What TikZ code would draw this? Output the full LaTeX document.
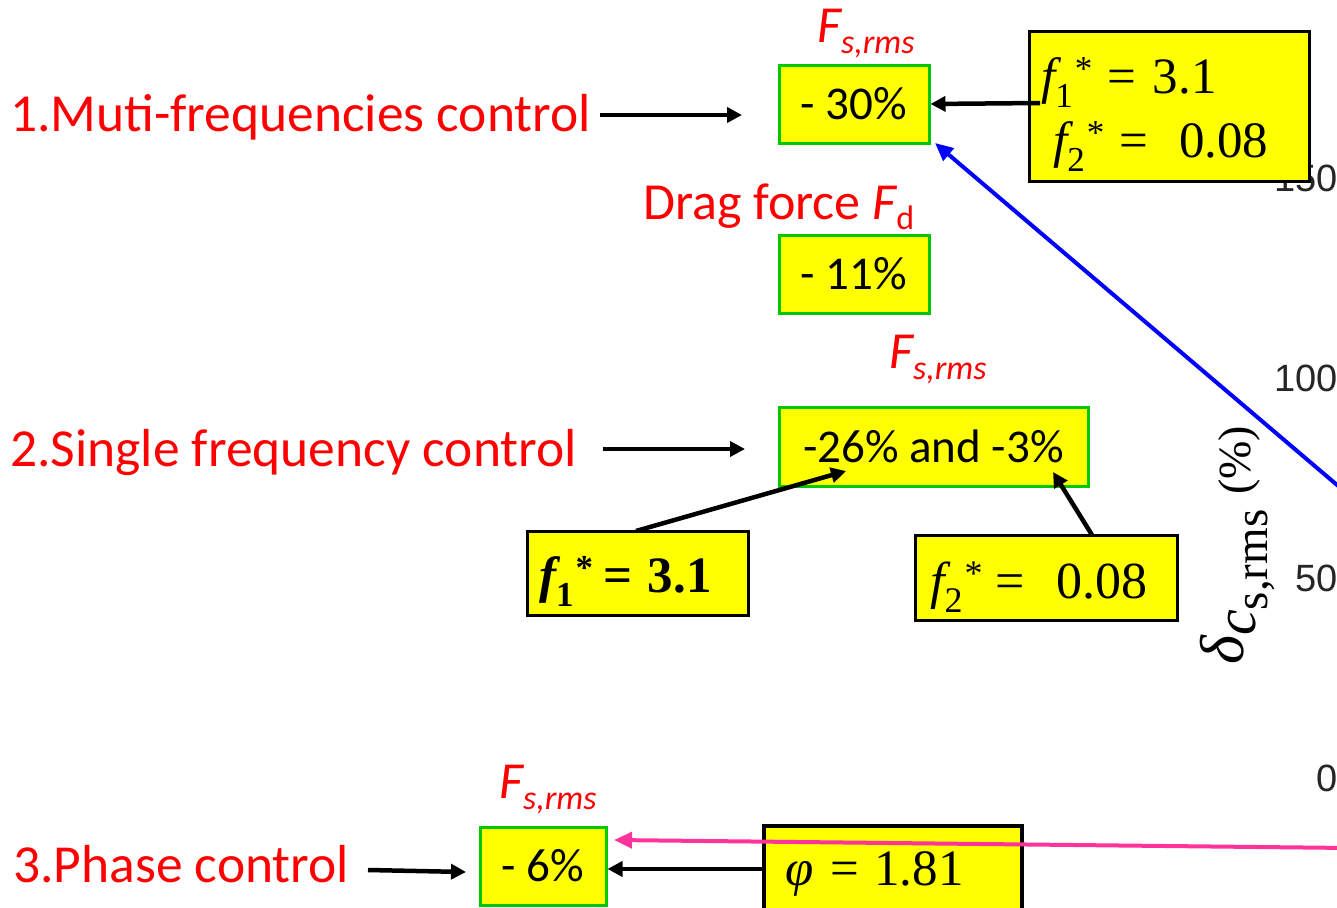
\documentclass[tikz,border=0pt]{standalone}
\usepackage{fontspec}
\usetikzlibrary{arrows.meta}
\newfontfamily\carl{Carlito}
\newfontfamily\tms{Liberation Serif}
\newfontfamily\ars{Liberation Sans}
\newcommand\fsz[1]{\fontsize{#1pt}{#1pt}\selectfont}
% f with subscript digit and raised star
\newcommand\fsub[2]{{\itshape f}\raisebox{-0.28em}{\fsz{#2}#1}\hspace{0.04em}\raisebox{0.24em}{\fsz{#2}*}}
\newcommand\Fsrms{{\itshape F}\raisebox{-11pt}{\fsz{34}\itshape s,rms}}
\definecolor{boxyellow}{RGB}{255,255,0}
\definecolor{boxgreen}{RGB}{0,200,0}
\definecolor{tickgray}{RGB}{38,38,38}
\definecolor{pinkline}{RGB}{255,51,153}
\tikzset{
  redlab/.style={text=red, font=\carl\fsz{53.5}, inner sep=0pt},
  fslab/.style={text=red, font=\carl\fsz{52}, inner sep=0pt},
  resbox/.style={draw=boxgreen, line width=3pt, fill=boxyellow, font=\carl\fsz{47}, inner sep=0pt, minimum height=78pt},
  parbox/.style={draw=black, line width=3pt, fill=boxyellow, inner sep=0pt},
  formula/.style={font=\tms, inner sep=0pt, anchor=base west},
  tick/.style={text=tickgray, font=\ars\fsz{38}, inner sep=0pt, anchor=east},
  arr/.style={line width=4.5pt, -{Triangle[length=15pt,width=15pt]}},
  blarr/.style={draw=blue, line width=4pt, -{Triangle[length=18pt,width=16pt]}},
  pkarr/.style={draw=pinkline, line width=4pt, -{Triangle[length=18pt,width=16pt]}}
}
\begin{document}
\begin{tikzpicture}[x=1pt,y=-1pt]
\useasboundingbox (0,0) rectangle (1337,907);
\clip (0,0) rectangle (1337,907);
\fill[white] (0,0) rectangle (1337,907);
% axis tick labels
\node[tick] (t150) at (1338,178) {150};
\node[tick] (t100) at (1338,378) {100};
\node[tick] (t50) at (1338,578) {50};
\node[tick] (t0) at (1338,778) {0};
\node[rotate=90, anchor=base west, inner sep=0pt, font=\tms] (ylab) at (1243,665)
  {{\fsz{62}\itshape δ}\raisebox{-12pt}{\fsz{58}\itshape c}\raisebox{-24pt}{\fsz{47}s,rms}\hspace{15pt}\raisebox{-7pt}{\fsz{46}(\%)}};
% row 1
\node[redlab, anchor=base west] (lab1) at (10,131) {1.Muti-frequencies control};
\node[resbox, minimum width=150pt] (b30) at (854,104) {- 30\%};
\node[fslab, anchor=base west] (fs1) at (817,42) {\Fsrms};
\node[parbox, minimum width=280pt, minimum height=149pt] (bf12) at (1169,106.5) {};
\node[formula, font=\tms\fsz{51}] (f12a) at (1041,93) {\fsub{1}{35}\hspace{0.3em}=\hspace{0.32em}3.1};
\node[formula, font=\tms\fsz{51}] (f12b) at (1053,157) {\fsub{2}{35}\hspace{0.3em}=\hspace{0.6em}0.08};
\node[fslab, anchor=base west] (drag) at (643,219) {Drag force {\itshape F}\raisebox{-10pt}{\fsz{34}d}};
\node[resbox, minimum width=150pt] (b11) at (854,274) {- 11\%};
% row 2
\node[fslab, anchor=base west] (fs2) at (889,368) {\Fsrms};
\node[redlab, anchor=base west] (lab2) at (10,466) {2.Single frequency control};
\node[resbox, minimum width=309pt, minimum height=79pt] (b26) at (933.5,446.5) {-26\% and -3\%};
\node[parbox, minimum width=221pt, minimum height=84pt] (bf1) at (637.5,573) {};
\node[formula, font=\tms\bfseries\fsz{51}] (f1t) at (539,592) {\fsub{1}{35}\hspace{0.2em}=\hspace{0.3em}3.1};
\node[parbox, minimum width=262pt, minimum height=85pt] (bf2) at (1046,578) {};
\node[formula, font=\tms\fsz{52}] (f2t) at (930,598) {\fsub{2}{36}\hspace{0.25em}=\hspace{0.6em}0.08};
% row 3
\node[fslab, anchor=base west] (fs3) at (499,798) {\Fsrms};
\node[redlab, anchor=base west] (lab3) at (13,882) {3.Phase control};
\node[resbox, minimum width=126pt] (b6) at (543,866) {- 6\%};
\node[parbox, line width=4pt, minimum width=258pt, minimum height=95pt] (bphi) at (893,873) {};
\node[formula, font=\tms\fsz{51}] (phit) at (785,885) {{\itshape φ}\hspace{0.33em}=\hspace{0.3em}1.81};
% connector end points
\coordinate (a1s) at (600,115);
\coordinate (a1e) at (742,115);
\coordinate (a2s) at (603,449);
\coordinate (a2e) at (745,449);
\coordinate (a3s) at (368,870);
\coordinate (a3e) at (466,872);
\coordinate (f12s) at (1040,103);
\coordinate (f1s) at (636,531);
\coordinate (f1e) at (846,471);
\coordinate (f2s) at (1092,535);
\coordinate (f2e) at (1053,472);
\coordinate (phis) at (764,869);
\coordinate (blues) at (1350,496);
\coordinate (bluee) at (935,143);
\coordinate (pinks) at (1350,848);
\coordinate (pinke) at (614,840);
% connectors
\draw[arr] (a1s) -- (a1e);
\draw[arr] (a2s) -- (a2e);
\draw[arr] (a3s) -- (a3e);
\draw[arr] (f12s) -- (b30.east);
\draw[arr] (f1s) -- (f1e);
\draw[arr] (f2s) -- (f2e);
\draw[arr] (phis) -- (b6.east |- phis);
\draw[blarr] (blues) -- (bluee);
\draw[pkarr] (pinks) -- (pinke);
\end{tikzpicture}
\end{document}
